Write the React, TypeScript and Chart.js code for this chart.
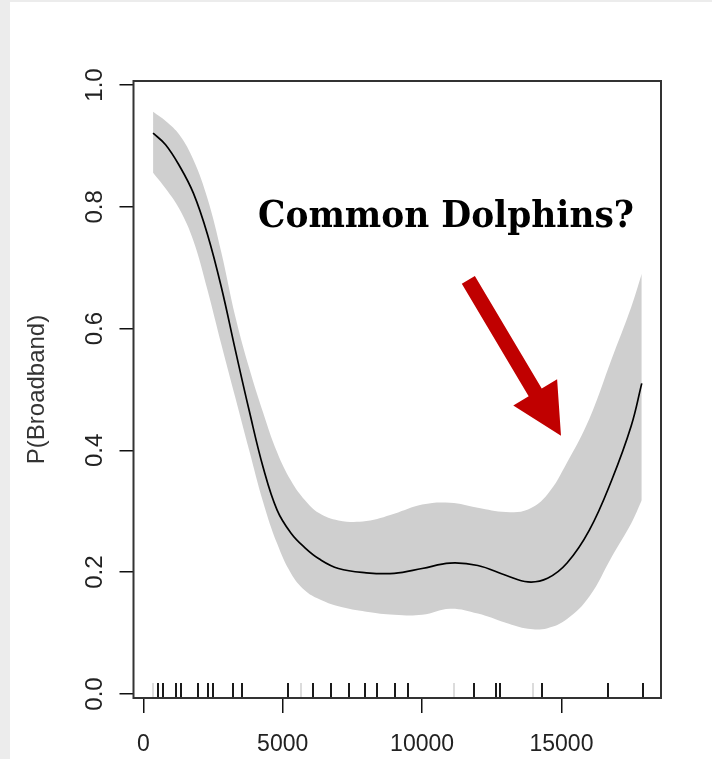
import React, { useEffect, useRef } from "react";
import { Chart, registerables } from "chart.js";

Chart.register(...registerables);

// Smooth fit (x in data units) and its confidence band
const X_VALUES = [350, 800, 1300, 1800, 2300, 2800, 3300, 3800, 4300, 4800, 5300, 5800, 6300, 7000, 8000, 9000, 10000, 11000, 12000, 13000, 13800, 14500, 15200, 16000, 16800, 17500, 17880];
const FIT = [0.921, 0.902, 0.867, 0.822, 0.755, 0.668, 0.565, 0.465, 0.372, 0.302, 0.264, 0.240, 0.222, 0.206, 0.199, 0.198, 0.206, 0.215, 0.211, 0.195, 0.184, 0.190, 0.215, 0.269, 0.351, 0.440, 0.510];
const UPPER = [0.956, 0.941, 0.918, 0.877, 0.814, 0.725, 0.620, 0.535, 0.462, 0.397, 0.350, 0.318, 0.297, 0.285, 0.284, 0.296, 0.311, 0.314, 0.306, 0.299, 0.303, 0.328, 0.380, 0.452, 0.550, 0.635, 0.690];
const LOWER = [0.856, 0.830, 0.796, 0.744, 0.664, 0.574, 0.487, 0.400, 0.315, 0.247, 0.198, 0.170, 0.156, 0.144, 0.135, 0.130, 0.130, 0.140, 0.132, 0.117, 0.107, 0.108, 0.123, 0.160, 0.225, 0.280, 0.318];

// Rug of observations
const RUG_DARK = [538, 717, 1173, 1341, 1973, 2331, 2489, 3228, 3530, 5180, 6076, 6722, 7378, 7970, 8365, 9021, 9506, 11862, 12641, 12795, 14312, 16669, 17914];
const RUG_LIGHT = [359, 5646, 11156, 13968];

// Axes
const X_TICKS = [0, 5000, 10000, 15000];
const Y_TICKS = [0, 0.2, 0.4, 0.6, 0.8, 1.0];
const X_MIN = -351.5;
const X_MAX = 18570;
const Y_MIN = -0.0066;
const Y_MAX = 1.0066;
const Y_TITLE = "P(Broadband)";

// Annotation (data coordinates)
const LABEL_TEXT = "Common Dolphins?";
const LABEL_AT = [10858, 0.767];
const ARROW_FROM = [11659, 0.68];
const ARROW_TO = [14983, 0.424];

export default function App() {
  const ref = useRef<HTMLCanvasElement>(null);

  useEffect(() => {
    const canvas = ref.current!;
    const pts = (ys: number[]) => X_VALUES.map((x, i) => ({ x, y: ys[i] }));

    const annot = {
      id: "annot",
      afterDatasetsDraw(chart: any) {
        const { ctx, chartArea, scales } = chart;
        const xs = scales.x;
        const ys = scales.y;
        ctx.save();
        // rug
        ctx.lineWidth = 2;
        const rugLen = 15;
        const drawRug = (vals: number[], color: string) => {
          ctx.strokeStyle = color;
          vals.forEach((v) => {
            const px = Math.round(xs.getPixelForValue(v));
            ctx.beginPath();
            ctx.moveTo(px, chartArea.bottom);
            ctx.lineTo(px, chartArea.bottom - rugLen);
            ctx.stroke();
          });
        };
        drawRug(RUG_LIGHT, "#dcdcdc");
        drawRug(RUG_DARK, "#1a1a1a");

        // frame
        ctx.strokeStyle = "#333";
        ctx.lineWidth = 2;
        ctx.strokeRect(chartArea.left, chartArea.top, chartArea.right - chartArea.left, chartArea.bottom - chartArea.top);

        // arrow
        const sx = xs.getPixelForValue(ARROW_FROM[0]);
        const sy = ys.getPixelForValue(ARROW_FROM[1]);
        const tx = xs.getPixelForValue(ARROW_TO[0]);
        const ty = ys.getPixelForValue(ARROW_TO[1]);
        const len = Math.hypot(tx - sx, ty - sy);
        const ux = (tx - sx) / len;
        const uy = (ty - sy) / len;
        const nx = -uy;
        const ny = ux;
        const sw = 7.6;
        const hw = 25.5;
        const hl = 50.5;
        const bx = tx - ux * hl;
        const by = ty - uy * hl;
        ctx.fillStyle = "#c00000";
        ctx.beginPath();
        ctx.moveTo(sx + nx * sw, sy + ny * sw);
        ctx.lineTo(bx + nx * sw, by + ny * sw);
        ctx.lineTo(bx + nx * hw, by + ny * hw);
        ctx.lineTo(tx, ty);
        ctx.lineTo(bx - nx * hw, by - ny * hw);
        ctx.lineTo(bx - nx * sw, by - ny * sw);
        ctx.lineTo(sx - nx * sw, sy - ny * sw);
        ctx.closePath();
        ctx.fill();

        // label
        ctx.font = "bold 37px 'DejaVu Serif'";
        ctx.fillStyle = "#000";
        ctx.textBaseline = "alphabetic";
        ctx.textAlign = "center";
        const w = ctx.measureText(LABEL_TEXT).width;
        const lx = xs.getPixelForValue(LABEL_AT[0]);
        const ly = ys.getPixelForValue(LABEL_AT[1]);
        const k = 376 / w;
        ctx.translate(lx, ly);
        ctx.scale(k, 1);
        ctx.fillText(LABEL_TEXT, 0, 0);
        ctx.restore();
      },
    };

    const smooth = { tension: 0.4, cubicInterpolationMode: "default" };

    const chart = new Chart(canvas, {
      type: "line",
      data: {
        datasets: [
          {
            data: pts(FIT),
            borderWidth: 1.7,
            borderColor: "#000",
            fill: false,
            pointRadius: 0,
            ...smooth,
          },
          {
            data: pts(UPPER),
            borderWidth: 0,
            borderColor: "rgba(0,0,0,0)",
            backgroundColor: "#cfcfcf",
            fill: "+1",
            pointRadius: 0,
            ...smooth,
          },
          {
            data: pts(LOWER),
            borderWidth: 0,
            borderColor: "rgba(0,0,0,0)",
            fill: false,
            pointRadius: 0,
            ...smooth,
          },
        ],
      },
      options: {
        responsive: false,
        animation: false,
        devicePixelRatio: 1,
        layout: { padding: { left: 0, right: 51, top: 79, bottom: 0 } },
        plugins: { legend: { display: false }, tooltip: { enabled: false } },
        elements: { point: { radius: 0 } },
        scales: {
          x: {
            type: "linear",
            min: X_MIN,
            max: X_MAX,
            afterBuildTicks: (s: any) => {
              s.ticks = X_TICKS.map((v) => ({ value: v }));
            },
            afterFit: (s: any) => {
              s.height = 61;
            },
            grid: { drawOnChartArea: false, drawTicks: true, tickLength: 15, color: "#111", lineWidth: 1.5 },
            border: { display: false },
            ticks: {
              padding: 18,
              maxRotation: 0,
              minRotation: 0,
              color: "#222",
              font: { family: "'Liberation Sans', Arial, sans-serif", size: 23 },
              callback: (v: any) => String(v),
            },
          },
          y: {
            type: "linear",
            min: Y_MIN,
            max: Y_MAX,
            afterBuildTicks: (s: any) => {
              s.ticks = Y_TICKS.map((v) => ({ value: v }));
            },
            afterFit: (s: any) => {
              s.width = 123.5;
            },
            grid: { drawOnChartArea: false, drawTicks: true, tickLength: 14, color: "#111", lineWidth: 1.5 },
            border: { display: false },
            ticks: {
              minRotation: 90,
              maxRotation: 90,
              crossAlign: "center",
              padding: 7.3,
              color: "#222",
              font: { family: "'Liberation Sans', Arial, sans-serif", size: 24 },
              callback: (v: any) => Number(v).toFixed(1),
            },
            title: {
              display: true,
              text: Y_TITLE,
              color: "#333",
              font: { family: "'Liberation Sans', Arial, sans-serif", size: 24 },
              padding: { top: 12.6, bottom: 0 },
            },
          },
        },
      },
      plugins: [annot],
    } as any);

    return () => chart.destroy();
  }, []);

  return (
    <div style={{ position: "fixed", left: 0, top: 0, width: 712, height: 759, background: "#ececec" }}>
      <div style={{ position: "absolute", left: 10, top: 2, width: 702, height: 757, background: "#fff" }}>
        <canvas ref={ref} width={702} height={757} style={{ display: "block", width: 702, height: 757 }} />
      </div>
    </div>
  );
}
